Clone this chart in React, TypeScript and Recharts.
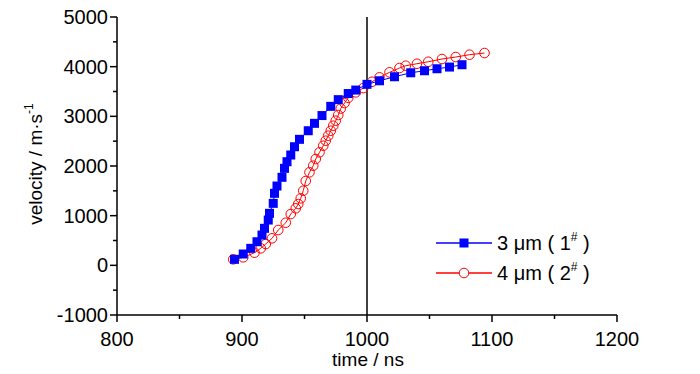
import { ComposedChart, Scatter, XAxis, YAxis, ReferenceLine } from 'recharts';

const FONT = '"Liberation Sans", Arial, sans-serif';
const BLUE = '#0000ff';
const RED = '#ff0000';

// 3 µm (1#)
const time3 = [894, 901, 907, 912, 916, 918, 921, 922, 925, 926, 928, 932, 934, 936, 939, 942, 946, 953, 958, 964, 971, 977, 985, 991, 1000, 1010, 1022, 1035, 1046, 1056, 1066, 1076];
const vel3 = [121, 228, 342, 475, 610, 745, 912, 1047, 1248, 1450, 1597, 1772, 1953, 2086, 2221, 2388, 2537, 2710, 2859, 3016, 3201, 3336, 3459, 3529, 3644, 3716, 3797, 3877, 3918, 3958, 3992, 4039];

// 4 µm (2#)
const time4 = [893, 901, 910, 915, 919, 924, 929, 935, 939, 943, 945, 947, 949, 951, 954, 957, 959, 962, 965, 967, 969, 971, 973, 975, 977, 979, 982, 985, 991, 997, 1004, 1010, 1018, 1026, 1031, 1040, 1049, 1060, 1071, 1082, 1094];
const vel4 = [121, 161, 254, 342, 429, 544, 711, 858, 1033, 1148, 1235, 1349, 1502, 1698, 1873, 2006, 2141, 2275, 2408, 2509, 2610, 2710, 2811, 2912, 3026, 3157, 3268, 3373, 3483, 3569, 3696, 3785, 3886, 3973, 4019, 4059, 4099, 4154, 4194, 4241, 4275];

const xTicks = [800, 850, 900, 950, 1000, 1050, 1100, 1150, 1200];
const yTicks = [-1000, -500, 0, 500, 1000, 1500, 2000, 2500, 3000, 3500, 4000, 4500, 5000];

const series3 = time3.map((t, i) => ({ time: t, velocity: vel3[i] }));
const series4 = time4.map((t, i) => ({ time: t, velocity: vel4[i] }));

function XTick({ x, y, payload }: any) {
  const major = payload.value % 100 === 0;
  return (
    <g>
      <line x1={x} x2={x} y1={y} y2={y + (major ? 7 : 4)} stroke="#000" strokeWidth={1.5} />
      {major && (
        <text x={x} y={y + 31} textAnchor="middle" fontSize={20} fontFamily={FONT} fill="#000">
          {payload.value}
        </text>
      )}
    </g>
  );
}

function YTick({ x, y, payload }: any) {
  const major = payload.value % 1000 === 0;
  return (
    <g>
      <line x1={x - (major ? 7 : 4)} x2={x} y1={y} y2={y} stroke="#000" strokeWidth={1.5} />
      {major && (
        <text x={x - 9} y={y + 7} textAnchor="end" fontSize={20} fontFamily={FONT} fill="#000">
          {payload.value}
        </text>
      )}
    </g>
  );
}

const XTitle = () => (
  <text x={368} y={366} textAnchor="middle" fontSize={19} fontFamily={FONT} fill="#000">
    time / ns
  </text>
);

const YTitle = () => (
  <text transform="translate(42,164) rotate(-90)" textAnchor="middle" fontSize={19} fontFamily={FONT} fill="#000">
    velocity / m·s
    <tspan dy={-9} fontSize={12}>-1</tspan>
  </text>
);

const Square = ({ cx, cy }: any) => (
  <rect x={cx - 4.5} y={cy - 4.5} width={9} height={9} fill={BLUE} />
);

const Ring = ({ cx, cy }: any) => (
  <circle cx={cx} cy={cy} r={4.8} fill="none" stroke={RED} strokeWidth={1} />
);

function LegendBox() {
  const rows = [
    { color: BLUE, label: '3 μm ( 1', sup: '#', mark: 'square' },
    { color: RED, label: '4 μm ( 2', sup: '#', mark: 'circle' },
  ];
  return (
    <svg width={200} height={70} style={{ position: 'absolute', left: 430, top: 220 }}>
      {rows.map((r, i) => {
        const cy = 23 + i * 30;
        return (
          <g key={i}>
            <line x1={6} x2={62} y1={cy} y2={cy} stroke={r.color} strokeWidth={1.5} />
            {r.mark === 'square' ? (
              <rect x={29.5} y={cy - 4.5} width={9} height={9} fill={r.color} />
            ) : (
              <circle cx={34} cy={cy} r={4.8} fill="#fff" stroke={r.color} strokeWidth={1} />
            )}
            <text x={67} y={cy + 7} fontSize={20} fontFamily={FONT} fill="#000">
              {r.label}
              <tspan dy={-9} fontSize={12}>{r.sup}</tspan>
              <tspan dy={9}> )</tspan>
            </text>
          </g>
        );
      })}
    </svg>
  );
}

export default function App() {
  return (
    <div style={{ position: 'absolute', left: 0, top: 0, width: 700, height: 374, background: '#fff' }}>
      <ComposedChart width={700} height={374} margin={{ top: 17, right: 83, bottom: 0, left: 0 }}>
        <XAxis
          dataKey="time"
          type="number"
          domain={[800, 1200]}
          ticks={xTicks}
          interval={0}
          height={59}
          tickSize={0}
          tickMargin={0}
          tick={<XTick />}
          axisLine={{ stroke: '#000', strokeWidth: 1.5 }}
          label={<XTitle />}
          allowDataOverflow
        />
        <YAxis
          dataKey="velocity"
          type="number"
          domain={[-1000, 5000]}
          ticks={yTicks}
          interval={0}
          width={117}
          tickSize={0}
          tickMargin={0}
          tick={<YTick />}
          axisLine={{ stroke: '#000', strokeWidth: 1.5 }}
          label={<YTitle />}
          allowDataOverflow
        />
        <ReferenceLine x={1000} stroke="#000" strokeWidth={1.5} />
        <Scatter
          data={series4}
          line={{ stroke: RED, strokeWidth: 1 }}
          lineType="joint"
          shape={<Ring />}
          isAnimationActive={false}
        />
        <Scatter
          data={series3}
          line={{ stroke: BLUE, strokeWidth: 1 }}
          lineType="joint"
          shape={<Square />}
          isAnimationActive={false}
        />
      </ComposedChart>
      <LegendBox />
    </div>
  );
}
